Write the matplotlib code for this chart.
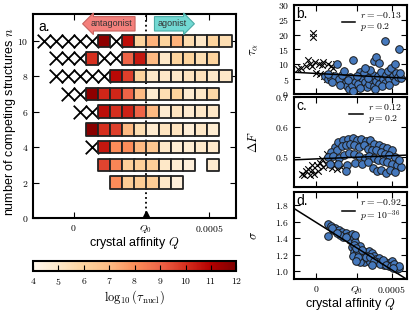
import numpy as np
import matplotlib.pyplot as plt

plt.rcParams['mathtext.fontset'] = 'cm'
plt.rcParams['font.family'] = ['Liberation Sans', 'DejaVu Sans']

Q0 = 2.67e-4

# panel a: Q grid (units 1e-4) and log10(tau_nucl) per row, 'x' = no nucleation
q_grid = [-1.11, -0.66, -0.21, 0.23, 0.68, 1.13, 1.58, 2.03, 2.47, 2.92, 3.37, 3.82, 4.27, 4.71, 5.16, 5.61]
n_rows = [10, 9, 8, 7, 6, 5, 4, 3, 2]
tau_rows = [
    ['x', 'x', 'x', 'x', 'x', 11.7, 'x', 10.7, 6.0, 7.2, 6.0, 7.2, 5.6, 5.0, 6.0, 5.5],
    [None, 'x', 'x', 'x', 10.0, 'x', 'x', 9.0, 10.5, 7.0, 5.0, 6.0, 6.0, 5.5, 6.0, None],
    [None, 'x', 'x', 'x', 'x', 'x', 10.8, 9.7, 6.0, 5.0, 5.0, 5.0, 5.2, 5.3, 5.0, 5.0],
    [None, None, 'x', 'x', 11.7, 10.2, 10.2, 9.0, 7.0, 4.8, 5.5, 6.0, 4.8, 5.0, 5.8, None],
    [None, None, None, 'x', 'x', 10.7, 10.0, 10.3, 9.0, 7.0, 4.8, 5.2, 4.8, 5.0, 5.0, None],
    [None, None, None, None, 11.8, 10.0, 9.7, 7.0, 5.5, 4.8, 5.2, 5.2, 4.6, 5.0, 4.7, None],
    [None, None, None, None, 'x', 10.5, 8.0, 8.0, 7.0, 6.5, 5.0, 4.7, 4.7, 4.9, 4.9, None],
    [None, None, None, None, None, 9.6, 8.2, 6.2, 6.2, 6.2, 5.0, 4.7, 4.5, None, 4.8, None],
    [None, None, None, None, None, None, 8.0, 6.3, 6.3, 6.3, 5.0, 4.5, None, None, None, None],
]

# panel b: tau_alpha vs Q (units 1e-4)
b_q = [0.57, 0.75, 0.97, 1.24, 1.51, 1.69, 1.82, 1.95, 2.02, 2.17, 2.35, 1.35, 2.46, 2.57, 2.75, 2.91,
       3.06, 3.24, 3.35, 3.51, 3.64, 3.73, 3.86, 3.95, 4.09, 4.17, 4.31, 4.4, 4.53, 4.62, 4.75, 4.84,
       4.97, 5.06, 5.2, 5.29, 5.42, 5.64, 5.57, 3.8, 3.95, 4.13, 4.57, 5.51, 2.24, 1.02, 1.57, 3.13,
       3.46, 2.68, 2.09, 3.57, 5.2, 4.35, 4.8, 3.91, 2.91, 2.46, 0.8, 3.2]
b_tau = [5.9, 5.0, 5.4, 5.9, 5.0, 6.3, 7.8, 3.9, 2.6, 1.7, 3.0, 10.2, 11.4, 4.4, 3.3, 7.4,
         5.2, 3.9, 2.2, 3.3, 5.0, 6.3, 2.6, 4.4, 6.1, 3.3, 7.4, 5.0, 3.7, 6.3, 7.8, 5.0,
         8.9, 6.1, 4.4, 7.2, 5.6, 5.2, 7.0, 11.1, 12.6, 10.3, 18.0, 15.0, 5.6, 3.9, 3.0, 7.0,
         5.2, 6.1, 4.8, 8.1, 10.0, 2.6, 3.0, 1.7, 1.9, 1.1, 6.7, 8.9]
bx_q = [-1.2, -1.02, -0.58, -0.31, -0.09, 0.18, 0.47, 0.8, 1.13, 1.29, 0.24, 0.69, -0.2, -0.2,
        0.0, 0.5, -0.7, 1.0, 0.35, -0.45, 0.9]
bx_tau = [8.3, 8.6, 11.4, 9.4, 10.8, 10.0, 10.6, 10.0, 8.9, 10.0, 6.7, 5.0, 20.5, 19.3,
          7.0, 6.0, 9.5, 9.5, 9.8, 10.2, 6.5]

# panel c: Delta F vs Q
c_q = [1.24, 1.46, 1.8, 2.09, 2.4, 2.69, 2.97, 3.29, 3.57, 3.86, 4.13, 4.4, 4.69, 5.02,
       0.97, 1.35, 1.69, 1.95, 2.24, 2.53, 2.84, 3.13, 3.42, 3.69, 3.95, 4.26, 4.57, 4.84, 5.2,
       0.75, 1.13, 1.51, 1.86, 2.17, 2.53, 2.84, 3.2, 3.51, 3.82, 4.09, 4.4, 4.71, 5.02, 5.37,
       0.91, 1.42, 2.02, 2.57, 3.06, 3.42, 3.73, 4.0, 4.31, 4.62, 4.91, 5.24, 5.6, 1.95, 5.46]
c_df = [0.533, 0.55, 0.555, 0.561, 0.564, 0.558, 0.561, 0.553, 0.558, 0.544, 0.539, 0.533, 0.531, 0.522,
        0.517, 0.524, 0.535, 0.539, 0.544, 0.539, 0.533, 0.539, 0.528, 0.524, 0.522, 0.517, 0.511, 0.505, 0.5,
        0.5, 0.502, 0.498, 0.505, 0.513, 0.509, 0.502, 0.498, 0.504, 0.498, 0.491, 0.487, 0.482, 0.478, 0.473,
        0.478, 0.475, 0.472, 0.48, 0.475, 0.483, 0.464, 0.453, 0.458, 0.447, 0.455, 0.449, 0.467, 0.453, 0.489]
cx_q = [-0.98, -0.71, -0.43, -0.27, 0.02, 0.24, 0.46, 0.62, 0.84, 1.06, 1.35, 1.64, 0.13, -0.54,
        -0.14, 0.35, 0.69, -0.8, 1.2, -0.31, 1.46]
cx_df = [0.444, 0.453, 0.439, 0.458, 0.472, 0.48, 0.467, 0.475, 0.472, 0.464, 0.461, 0.467, 0.453, 0.461,
         0.444, 0.494, 0.511, 0.439, 0.48, 0.472, 0.483]

# panel d: sigma vs Q
d_q = [0.76, 0.98, 1.24, 0.8, 1.13, 1.47, 1.69, 1.96, 1.8, 2.13, 2.36, 2.24, 2.47, 2.58, 2.36, 2.47,
       2.69, 2.4, 2.8, 2.91, 3.02, 3.24, 3.47, 3.69, 3.13, 3.42, 3.8, 3.96, 4.13, 4.36, 4.58, 4.8,
       5.02, 5.24, 5.36, 5.47, 4.8, 4.47, 4.02, 3.58, 3.36, 2.91, 1.05, 1.6, 1.35, 2.0, 2.55, 2.5,
       2.6, 2.75, 3.05, 3.3, 3.55, 3.85, 4.2, 4.45, 4.65, 4.95, 5.15, 5.5, 5.1, 3.7, 2.65]
d_sig = [1.57, 1.55, 1.53, 1.43, 1.5, 1.5, 1.48, 1.46, 1.41, 1.43, 1.45, 1.38, 1.4, 1.36, 1.29, 1.23,
         1.25, 1.19, 1.21, 1.31, 1.17, 1.23, 1.25, 1.22, 1.12, 1.15, 1.19, 1.15, 1.16, 1.11, 1.12, 1.1,
         1.13, 1.07, 1.03, 1.04, 1.06, 1.08, 1.11, 1.11, 1.19, 1.11, 1.52, 1.44, 1.47, 1.41, 1.44, 1.32,
         1.28, 1.17, 1.26, 1.17, 1.17, 1.13, 1.09, 1.14, 1.08, 1.07, 1.09, 1.07, 1.04, 1.08, 1.13]

# linear fits (value = a + b*Q, Q in 1e-4) and stats
fits = {'b': (6.9, -0.27), 'c': (0.4935, 0.0021), 'd': (1.59, -0.114)}
stats = {'b': ('-0.13', '0.2'), 'c': ('0.12', '0.2'), 'd': ('-0.92', '10^{-36}')}

xlim = (-1.5e-4, 6.0e-4)
xticks = [0, Q0, 5e-4]
xticklabels = ['$0$', '$Q_0$', '$0.0005$']
blue = '#4679bd'

fig = plt.figure(figsize=(4.15, 3.12), dpi=100)


def style(ax):
    for s in ax.spines.values():
        s.set_linewidth(1.5)
    ax.tick_params(direction='in', top=True, right=True, length=4, width=0.8, labelsize=7)


# ---- panel a ----
ax = fig.add_axes([0.0795, 0.301, 0.489, 0.654])
sq_q, sq_n, sq_t, x_q, x_n = [], [], [], [], []
for n, row in zip(n_rows, tau_rows):
    for q, t in zip(q_grid, row):
        if t is None:
            continue
        if t == 'x':
            x_q.append(q * 1e-4)
            x_n.append(n)
        else:
            sq_q.append(q * 1e-4)
            sq_n.append(n)
            sq_t.append(t)
ax.axvline(Q0, color='k', ls=':', lw=1.3, zorder=1)
ax.scatter(x_q, x_n, marker='x', s=95, c='k', linewidths=1.3, zorder=2)
sc = ax.scatter(sq_q, sq_n, c=sq_t, cmap='OrRd', vmin=4, vmax=12, marker='s', s=78,
                edgecolors='#222222', linewidths=1.3, zorder=3)
ax.plot([Q0], [0], marker='^', ms=10, color='k', clip_on=True, zorder=4)
ax.set_xlim(*xlim)
ax.set_ylim(0, 11.5)
ax.set_xticks(xticks)
ax.set_xticklabels(xticklabels)
ax.set_yticks([0, 2, 4, 6, 8, 10])
ax.set_yticklabels(['$%d$' % v for v in [0, 2, 4, 6, 8, 10]])
style(ax)
ax.set_xlabel('crystal affinity $Q$', fontsize=9, labelpad=0)
ax.set_ylabel('number of competing structures $n$', fontsize=9)
ax.yaxis.set_label_coords(-0.075, 0.47)
ax.text(0.025, 0.97, 'a.', transform=ax.transAxes, va='top', ha='left', fontsize=10)
ax.text(1.4e-4, 10.95, 'antagonist', ha='center', va='center', fontsize=6.5, color='#333333',
        bbox=dict(boxstyle='larrow,pad=0.3', fc='#f4807c', ec='#c8625e', lw=0.8))
ax.text(3.63e-4, 10.95, 'agonist', ha='center', va='center', fontsize=6.5, color='#333333',
        bbox=dict(boxstyle='rarrow,pad=0.3', fc='#72d9d3', ec='#4aaaa5', lw=0.8))

# colorbar
cax = fig.add_axes([0.0795, 0.131, 0.49, 0.032])
cb = fig.colorbar(sc, cax=cax, orientation='horizontal', ticks=range(4, 13))
cb.ax.set_xticklabels(['$%d$' % v for v in range(4, 13)])
cb.outline.set_linewidth(1.5)
cb.ax.tick_params(direction='in', length=4, width=0.8, labelsize=7)
cb.set_label(r'$\log_{10}(\tau_\mathrm{nucl})$', fontsize=9, labelpad=1)

# ---- right panels ----
panels = [
    ('b', [0.708, 0.699, 0.272, 0.285], b_q, b_tau, bx_q, bx_tau, (0, 30),
     [0, 5, 10, 15, 20, 25, 30], ['$0$', '$5$', '$10$', '$15$', '$20$', '$25$', '$30$'], r'$\tau_\alpha$'),
    ('c', [0.708, 0.401, 0.272, 0.288], c_q, c_df, cx_q, cx_df, (0.4, 0.7),
     [0.4, 0.5, 0.6, 0.7], ['', '$0.5$', '$0.6$', '$0.7$'], r'$\Delta F$'),
    ('d', [0.708, 0.106, 0.272, 0.279], d_q, d_sig, [], [], (0.91, 1.96),
     [1.0, 1.2, 1.4, 1.6, 1.8], ['$1.0$', '$1.2$', '$1.4$', '$1.6$', '$1.8$'], r'$\sigma$'),
]
for key, rect, q, v, xq, xv, ylim, yt, ytl, ylab in panels:
    ax = fig.add_axes(rect)
    if xq:
        ax.scatter(np.array(xq) * 1e-4, xv, marker='x', s=22, c='k', linewidths=0.8, zorder=2)
    ax.scatter(np.array(q) * 1e-4, v, s=30, c=blue, edgecolors='#1a1a1a', linewidths=0.7, zorder=3)
    a, b = fits[key]
    xs = np.array(xlim)
    r, p = stats[key]
    ax.plot(xs, a + b * xs * 1e4, color='k', lw=1.1, zorder=4,
            label='$r = %s$\n$p = %s$' % (r, p))
    ax.set_xlim(*xlim)
    ax.set_ylim(*ylim)
    ax.set_xticks(xticks)
    ax.set_yticks(yt)
    ax.set_yticklabels(ytl)
    style(ax)
    if key == 'd':
        ax.set_xticklabels(xticklabels)
        ax.set_xlabel('crystal affinity $Q$', fontsize=9, labelpad=0)
    else:
        ax.set_xticklabels([])
    ax.set_ylabel(ylab, fontsize=9)
    ax.yaxis.set_label_coords(-0.3, 0.5)
    ax.text(0.02, 0.98, key + '.', transform=ax.transAxes, va='top', ha='left', fontsize=10)
    ax.legend(loc='upper right', frameon=False, fontsize=7, handlelength=1.4,
              handletextpad=0.5, borderaxespad=0.1, labelspacing=0.2)

fig.savefig('out.png', dpi=100)
